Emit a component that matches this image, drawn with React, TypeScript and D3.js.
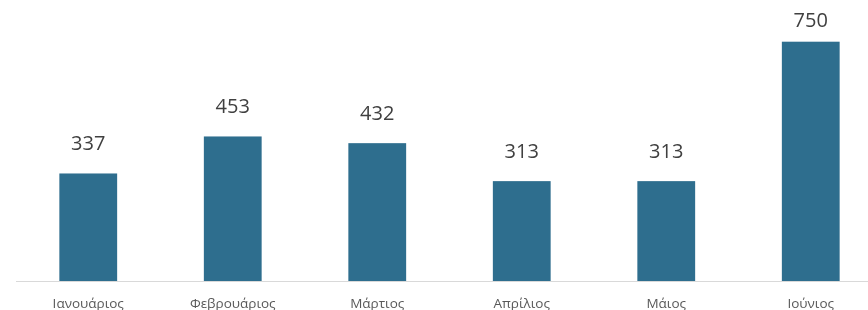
import * as d3 from "d3";

const months = ["Ιανουάριος", "Φεβρουάριος", "Μάρτιος", "Απρίλιος", "Μάιος", "Ιούνιος"];
const values = [337, 453, 432, 313, 313, 750];

export default function App() {
    const width = 868;
    const height = 310;
    const baseline = 281;
    const x = d3.scaleBand<string>().domain(months).range([16, 883]).paddingInner(0.6).paddingOuter(0.3);
    const y = d3.scaleLinear([0, 750], [baseline, 41.7]);
    const font = "'Open Sans', 'DejaVu Sans', sans-serif";
    return (
        <svg width={width} height={height} style={{ position: "fixed", left: 0, top: 0 }}>
            <line x1={16} x2={883} y1={baseline + 0.5} y2={baseline + 0.5} stroke="#d9d9d9" strokeWidth={1} />
            {months.map((m, i) => (
                <g key={m}>
                    <rect x={x(m)} y={y(values[i])} width={x.bandwidth()} height={baseline - y(values[i])} fill="#2e6e8e" />
                    <text x={x(m)! + x.bandwidth() / 2} y={Math.max(26.7, y(values[i]) - 23.5)} textAnchor="middle"
                        fontFamily={font} fontSize={20} fill="#404040">{values[i]}</text>
                    <text x={x(m)! + x.bandwidth() / 2} y={307.5} textAnchor="middle"
                        fontFamily={font} fontSize={13.5} fill="#595959">{m}</text>
                </g>
            ))}
        </svg>
    );
}
